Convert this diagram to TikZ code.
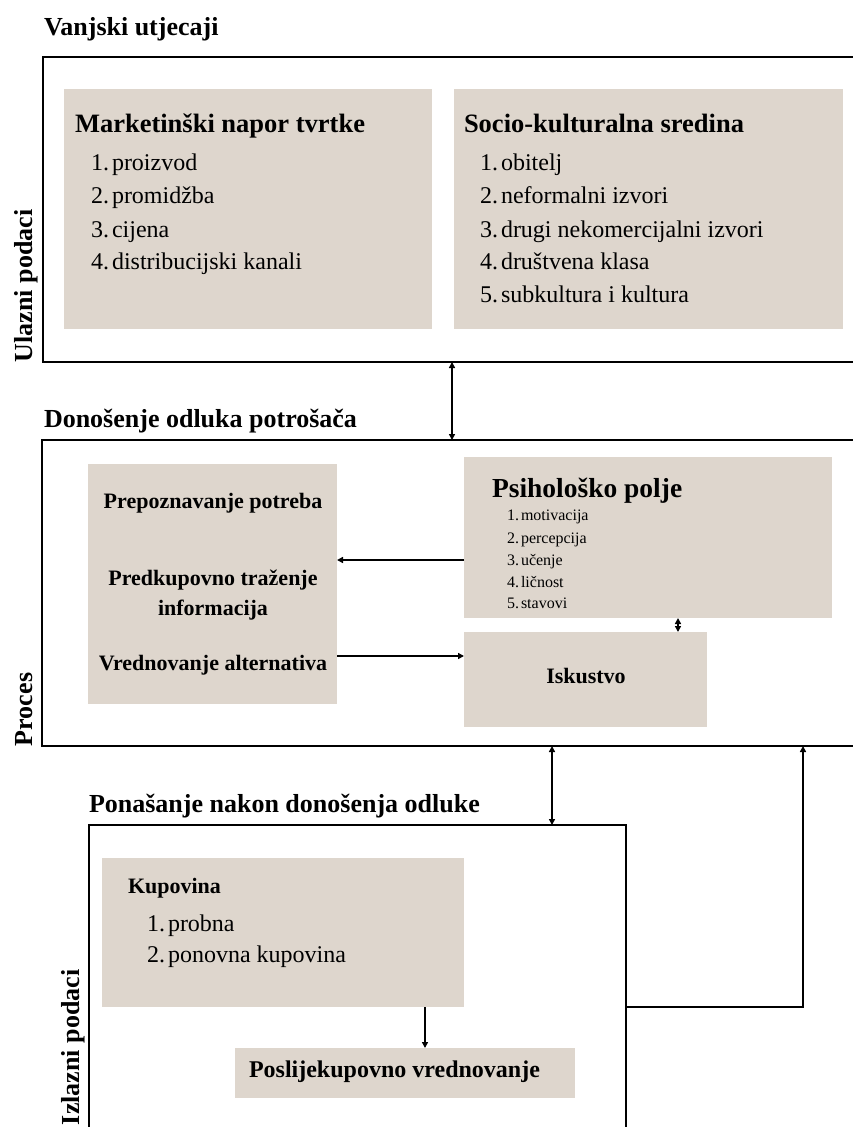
\documentclass[tikz,border=0pt]{standalone}
\usepackage{fontspec}
\setmainfont{Liberation Serif}
\usetikzlibrary{arrows.meta}
\definecolor{boxgray}{RGB}{222,214,205}
\begin{document}
\begin{tikzpicture}[x=1pt,y=-1pt,
  frame/.style={draw=black, line width=1.8pt, anchor=north west, inner sep=0pt, outer sep=0pt},
  graybox/.style={fill=boxgray, draw=none, anchor=north west, inner sep=0pt, outer sep=0pt},
  txt/.style={anchor=base west, inner sep=0pt, outer sep=0pt},
  ctxt/.style={anchor=base, inner sep=0pt, outer sep=0pt, align=center},
  head/.style={txt, font=\fontsize{26}{30}\selectfont\bfseries},
  side/.style={txt, rotate=90, font=\fontsize{26}{30}\selectfont\bfseries},
  boxtitle/.style={txt, font=\fontsize{26.5}{30}\selectfont\bfseries},
  item/.style={txt, font=\fontsize{24}{28}\selectfont},
  small/.style={txt, font=\fontsize{16}{19}\selectfont},
  midbold/.style={ctxt, font=\fontsize{22}{30}\selectfont\bfseries},
  arr/.style={line width=1.5pt, -{Triangle[length=6pt,width=6pt]}},
  dbl/.style={line width=1.5pt, {Triangle[length=6pt,width=6pt]}-{Triangle[length=6pt,width=6pt]}},
  ln/.style={line width=1.5pt}
]
\clip (0,0) rectangle (853,1127);
\fill[white] (0,0) rectangle (853,1127);

% ---------- frames ----------
\node[frame, minimum width=840pt, minimum height=305pt] (top) at (43,57) {};
\node[frame, minimum width=840pt, minimum height=306pt] (mid) at (42,440) {};
\node[frame, minimum width=537pt, minimum height=330pt] (bot) at (89,825) {};

% ---------- headings ----------
\node[head] (h1) at (44,35) {Vanjski utjecaji};
\node[head] (h2) at (44,427) {Donošenje odluka potrošača};
\node[head] (h3) at (89,812) {Ponašanje nakon donošenja odluke};

\node[side] (s1) at (32,362) {Ulazni podaci};
\node[side] (s2) at (32,746) {Proces};
\node[side] (s3) at (79,1125) {Izlazni podaci};

% ---------- top gray boxes ----------
\node[graybox, minimum width=368pt, minimum height=240pt] (mk) at (64,89) {};
\node[graybox, minimum width=389pt, minimum height=240pt] (sc) at (454,89) {};

\node[boxtitle] (mkt) at (75,132) {Marketinški napor tvrtke};
\node[item] (mk1) at (91,170) {1.\hspace{3pt}proizvod};
\node[item] (mk2) at (91,203) {2.\hspace{3pt}promidžba};
\node[item] (mk3) at (91,237) {3.\hspace{3pt}cijena};
\node[item] (mk4) at (91,269) {4.\hspace{3pt}distribucijski kanali};

\node[boxtitle] (sct) at (464,132) {Socio-kulturalna sredina};
\node[item] (sc1) at (480,170) {1.\hspace{3pt}obitelj};
\node[item] (sc2) at (480,203) {2.\hspace{3pt}neformalni izvori};
\node[item] (sc3) at (480,237) {3.\hspace{3pt}drugi nekomercijalni izvori};
\node[item] (sc4) at (480,269) {4.\hspace{3pt}društvena klasa};
\node[item] (sc5) at (480,302) {5.\hspace{3pt}subkultura i kultura};

% ---------- process boxes ----------
\node[graybox, minimum width=249pt, minimum height=240pt] (nd) at (88,464) {};
\node[graybox, minimum width=368pt, minimum height=161pt] (psy) at (464,457) {};
\node[graybox, minimum width=243pt, minimum height=95pt] (isk) at (464,632) {};

\node[midbold] (p1) at (213,508) {Prepoznavanje potreba};
\node[midbold] (p2) at (213,585) {Predkupovno traženje};
\node[midbold] (p3) at (213,615) {informacija};
\node[midbold] (p4) at (213,670) {Vrednovanje alternativa};
\node[midbold] (isktxt) at (586,683) {Iskustvo};

\node[txt, font=\fontsize{27.5}{32}\selectfont\bfseries] (psyt) at (492,497) {Psihološko polje};
\node[small] (ps1) at (507,520) {1.\hspace{2pt}motivacija};
\node[small] (ps2) at (507,543) {2.\hspace{2pt}percepcija};
\node[small] (ps3) at (507,565) {3.\hspace{2pt}učenje};
\node[small] (ps4) at (507,587) {4.\hspace{2pt}ličnost};
\node[small] (ps5) at (507,608) {5.\hspace{2pt}stavovi};

% ---------- output boxes ----------
\node[graybox, minimum width=362pt, minimum height=149pt] (kup) at (102,858) {};
\node[graybox, minimum width=340pt, minimum height=50pt] (pos) at (235,1048) {};

\node[txt, font=\fontsize{22}{26}\selectfont\bfseries] (kupt) at (128,893) {Kupovina};
\node[item] (k1) at (147,931) {1.\hspace{3pt}probna};
\node[item] (k2) at (147,962) {2.\hspace{3pt}ponovna kupovina};
\node[txt, font=\fontsize{24}{28}\selectfont\bfseries] (post) at (249,1077) {Poslijekupovno vrednovanje};

% ---------- connectors ----------
\coordinate (xa) at (452,0);
\coordinate (xb) at (678,0);
\coordinate (xc) at (552,0);
\coordinate (xd) at (803,0);
\coordinate (xe) at (425,0);
\coordinate (ya) at (0,560);
\coordinate (yb) at (0,656);
\coordinate (yc) at (0,1007);

\draw[dbl] (top.south -| xa) -- (mid.north -| xa);
\draw[arr] (psy.west |- ya) -- (nd.east |- ya);
\draw[arr] (nd.east |- yb) -- (isk.west |- yb);
\draw[dbl] (psy.south -| xb) -- (isk.north -| xb);
\draw[dbl] (mid.south -| xc) -- (bot.north -| xc);
\draw[arr] (bot.east |- yc) -- (xd |- yc) -- (mid.south -| xd);
\draw[arr] (kup.south -| xe) -- (pos.north -| xe);
\end{tikzpicture}
\end{document}
